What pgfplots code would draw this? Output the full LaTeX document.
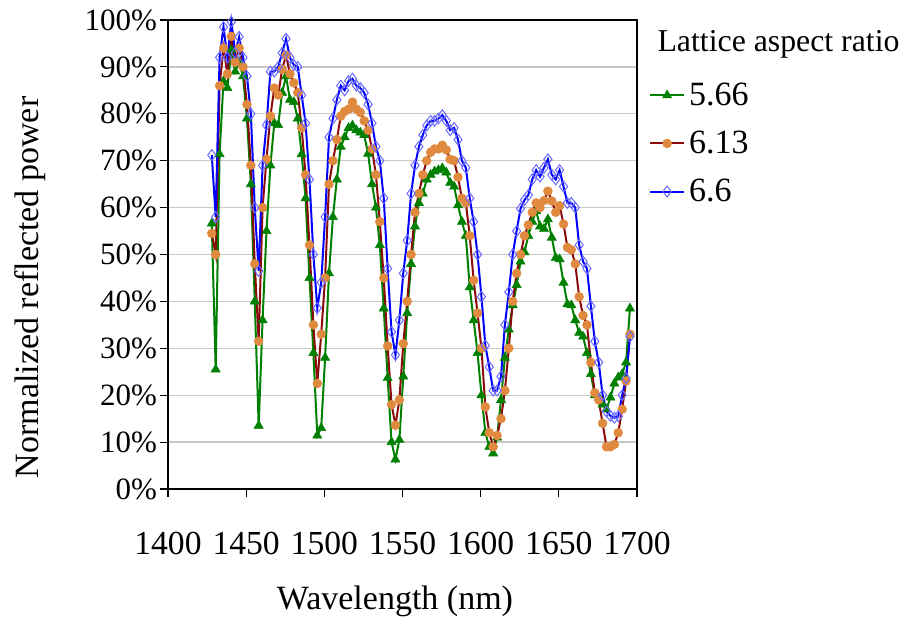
\documentclass[border=0pt]{standalone}
\usepackage{fontspec}
\setmainfont{Liberation Serif}
\usepackage{pgfplots}
\pgfplotsset{compat=1.18}
\usepackage{pgfplotstable}
\definecolor{sgreen}{HTML}{008000}
\definecolor{sred}{HTML}{8B0A0A}
\definecolor{sorange}{HTML}{E08A40}
\definecolor{sblue}{HTML}{0000FF}
\definecolor{sbluemark}{HTML}{6A6AFF}
\definecolor{gridgray}{HTML}{C8C8C8}

\pgfplotstableread{
x g o b
1428 56.6 54.5 71.2
1430.5 25.5 50 58
1433 71.4 86 92
1435.5 87 94 98.5
1438 85.5 88.5 92
1440.5 93.6 96.5 99.6
1443 89 91 93
1445.5 91 94 96.4
1448 88 90 92
1450.5 79 82 88
1453 65 69 80
1455.5 40 48 60
1458 13.5 31.5 46.5
1460.5 36 60 69
1463 55 70.3 77.6
1465.5 69 79.5 89
1468 78 85.5 89
1470.5 77.6 84 90
1473 84.5 89.5 93
1475.5 88 92.5 96
1478 83 88.5 92
1480.5 82.5 86.6 90.4
1483 79 84.5 90
1485.5 71.4 77 84
1488 62 67 78
1490.5 45 52 66
1493 29 35 50
1495.5 11.4 22.5 38.6
1498 13 33 44
1500.5 28 45 58
1503 46 65 75
1505.5 58 70 79
1508 66 74.5 83
1510.5 73 79.5 86
1513 75 80.5 85
1515.5 77 81 87
1518 77.5 82.5 87.5
1520.5 76.5 81 86
1523 76 80.3 85.5
1525.5 75.5 78.5 84.5
1528 71.5 76.5 82
1530.5 65 72.5 78
1533 60 67 73
1535.5 52 57 70
1538 38.5 45 62
1540.5 23.7 30.5 47
1543 10 18 33.5
1545.5 6.3 13.6 28.6
1548 10.5 19 36
1550.5 24 31 46
1553 37.5 40 53
1555.5 48 50 63
1558 56 59 69
1560.5 61 63 73
1563 63 67 75.5
1565.5 66 70 77.5
1568 67 71.8 78.5
1570.5 67.7 72.5 78.5
1573 68 72.5 79
1575.5 68.4 73.3 79.7
1578 67.5 72.3 78.5
1580.5 65.3 70.3 76.5
1583 64.5 70 77
1585.5 60.5 66.5 74.5
1588 57 62 70
1590.5 54 61 68.5
1593 43 54 62
1595.5 36 44.5 57
1598 29 37.5 50
1600.5 20 30 41
1603 12 17.5 30.6
1605.5 9 12 26
1608 7.6 9 21
1610.5 11 11.4 21
1613 19 15 24
1615.5 28 21 35
1618 34 30 42
1620.5 39.2 40 50
1623 43.5 46 55
1625.5 48.5 50 59.8
1628 50.5 54 61.6
1630.5 54 56.3 62.7
1633 57 59 66
1635.5 59.3 61 68
1638 56 60 66.6
1640.5 55.5 61.5 68.5
1643 57.5 63.5 70.3
1645.5 53.6 61.4 67
1648 49.3 59 66
1650.5 49 60.4 68
1653 44 56.5 64.5
1655.5 39.4 51.5 61
1658 39.2 51 61
1660.5 36 48 60
1663 33.3 41 52
1665.5 32.5 37 48.5
1668 29 35 47
1670.5 24.5 27 39
1673 20 20.5 31.5
1675.5 19.5 19 27
1678 18 14 20
1680.5 17 9 16.5
1683 19.5 9 15.6
1685.5 22.5 9.5 15.2
1688 23.8 12 15.5
1690.5 24.5 17 20
1693 27 23 23.6
1695.5 38.5 33 32.5
}\datatable

\begin{document}
\begin{tikzpicture}
\begin{axis}[
  at={(0,0)}, anchor=south west,
  scale only axis, width=234.5pt, height=234.5pt,
  xmin=1400, xmax=1700, ymin=0, ymax=100,
  xtick={1400,1450,...,1700}, ytick={0,10,...,100},
  yticklabel={\pgfmathprintnumber{\tick}\%},
  /pgf/number format/assume math mode=true,
  /pgf/number format/1000 sep={},
  tick align=outside, tick pos=left, major tick length=4pt,
  tick style={black, line width=0.6pt},
  ymajorgrids, grid style={gridgray, line width=0.7pt},
  axis line style={line width=1pt, black},
  xticklabel style={font=\fontsize{16.8}{20}\selectfont, yshift=-14pt},
  yticklabel style={font=\fontsize{15.5}{18}\selectfont, xshift=2pt},
  xlabel={Wavelength (nm)},
  ylabel={Normalized reflected power},
  label style={font=\fontsize{17}{20}\selectfont},
  xlabel style={at={(axis description cs:0.484,-0.24)}, anchor=center},
  ylabel style={at={(axis description cs:-0.294,0.43)}, anchor=center},
  clip=false,
  legend style={at={(axis description cs:1.025,0.876)}, anchor=north west,
    draw=none, fill=none, font=\fontsize{17}{20}\selectfont,
    row sep=7.3pt, inner sep=0pt},
  legend cell align=left,
  legend image code/.code={\draw[mark repeat=2,mark phase=2,#1] plot coordinates {(0pt,0pt)(8.5pt,0pt)(17pt,0pt)};},
]
\addplot[color=sgreen, line width=1pt, mark=triangle*, mark size=2.6pt,
  mark options={fill=sgreen, draw=sgreen, line width=0.3pt, solid}] table[x=x,y=g]{\datatable};
\addlegendentry{5.66}
\addplot[color=sred, line width=1pt, mark=*, mark size=2.2pt,
  mark options={fill=sorange, draw=sorange, line width=0.3pt, solid}] table[x=x,y=o]{\datatable};
\addlegendentry{6.13}
\addplot[color=sblue, line width=1pt, mark=diamond, mark size=2.7pt,
  mark options={draw=sbluemark, line width=0.5pt, solid}] table[x=x,y=b]{\datatable};
\addlegendentry{6.6}
\node[anchor=west, inner sep=0pt, font=\fontsize{15.9}{18}\selectfont] at (axis description cs:1.043,0.947) {Lattice aspect ratio};
\end{axis}
\pgfresetboundingbox
\path[use as bounding box] (-84pt,-66pt) rectangle (368pt,244.5pt);
\end{tikzpicture}
\end{document}
